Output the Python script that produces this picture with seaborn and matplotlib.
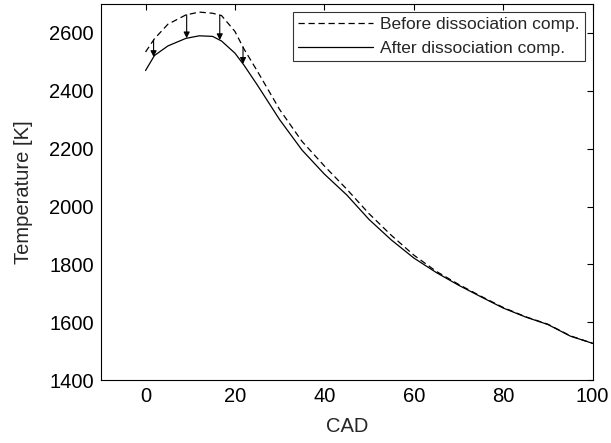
import numpy as np
import pandas as pd
import matplotlib.pyplot as plt
import seaborn as sns

# values
cad = [0, 2, 5, 9, 12, 15, 17, 20, 22, 25, 30, 35, 40, 45, 50, 55, 60,
       65, 70, 75, 80, 85, 90, 95, 100]
t_before = [2534, 2580, 2630, 2662, 2672, 2668, 2660, 2605, 2545, 2468, 2335, 2225,
            2140, 2060, 1975, 1900, 1832, 1776, 1731, 1690, 1651, 1619, 1593, 1553, 1527]
t_after = [2470, 2522, 2555, 2581, 2590, 2588, 2572, 2530, 2489, 2420, 2300, 2195,
           2112, 2040, 1955, 1884, 1822, 1772, 1728, 1688, 1649, 1618, 1592, 1552, 1527]
arrow_cad = [1.8, 9.2, 16.6, 21.8]

lbl_before = 'Before dissociation comp.'
lbl_after = 'After dissociation comp.'

df = pd.concat([
    pd.DataFrame({'CAD': cad, 'T': t_before, 'series': lbl_before}),
    pd.DataFrame({'CAD': cad, 'T': t_after, 'series': lbl_after}),
])

sns.set_style('white')
plt.rcParams['font.family'] = ['Liberation Sans', 'DejaVu Sans']

fig = plt.figure(figsize=(6.11, 4.43), dpi=100)
ax = fig.add_axes([0.165, 0.142, 0.805, 0.849])

sns.lineplot(data=df, x='CAD', y='T', style='series', color='black',
             dashes={lbl_before: (5, 3), lbl_after: ''}, linewidth=0.9, ax=ax)

# arrows from the uncorrected curve to the corrected one
for xa in arrow_cad:
    y0 = np.interp(xa, cad, t_before)
    y1 = np.interp(xa, cad, t_after)
    ax.annotate('', xy=(xa, y1), xytext=(xa, y0),
                arrowprops=dict(arrowstyle='-|>', color='black', lw=0.8,
                                mutation_scale=9, shrinkA=0, shrinkB=0))

ax.set_xlim(-10, 100)
ax.set_ylim(1400, 2700)
ax.set_xticks(range(0, 101, 20))
ax.set_yticks(range(1400, 2601, 200))
ax.tick_params(direction='in', top=True, right=True, length=4, width=0.8,
               labelsize=14.5, colors='black', pad=5)
for s in ax.spines.values():
    s.set_color('black')
    s.set_linewidth(0.8)
ax.set_xlabel('CAD', fontsize=14.5, labelpad=8)
ax.set_ylabel('Temperature [K]', fontsize=14.5, labelpad=12)

leg = ax.legend(title=None, loc='upper right', fontsize=12.5, frameon=True,
                fancybox=False, edgecolor='black', borderaxespad=0.45,
                handlelength=4.3, handletextpad=0.4, labelspacing=0.5,
                borderpad=0.3)
leg.get_frame().set_linewidth(0.8)

fig.savefig('out.png', dpi=100)
